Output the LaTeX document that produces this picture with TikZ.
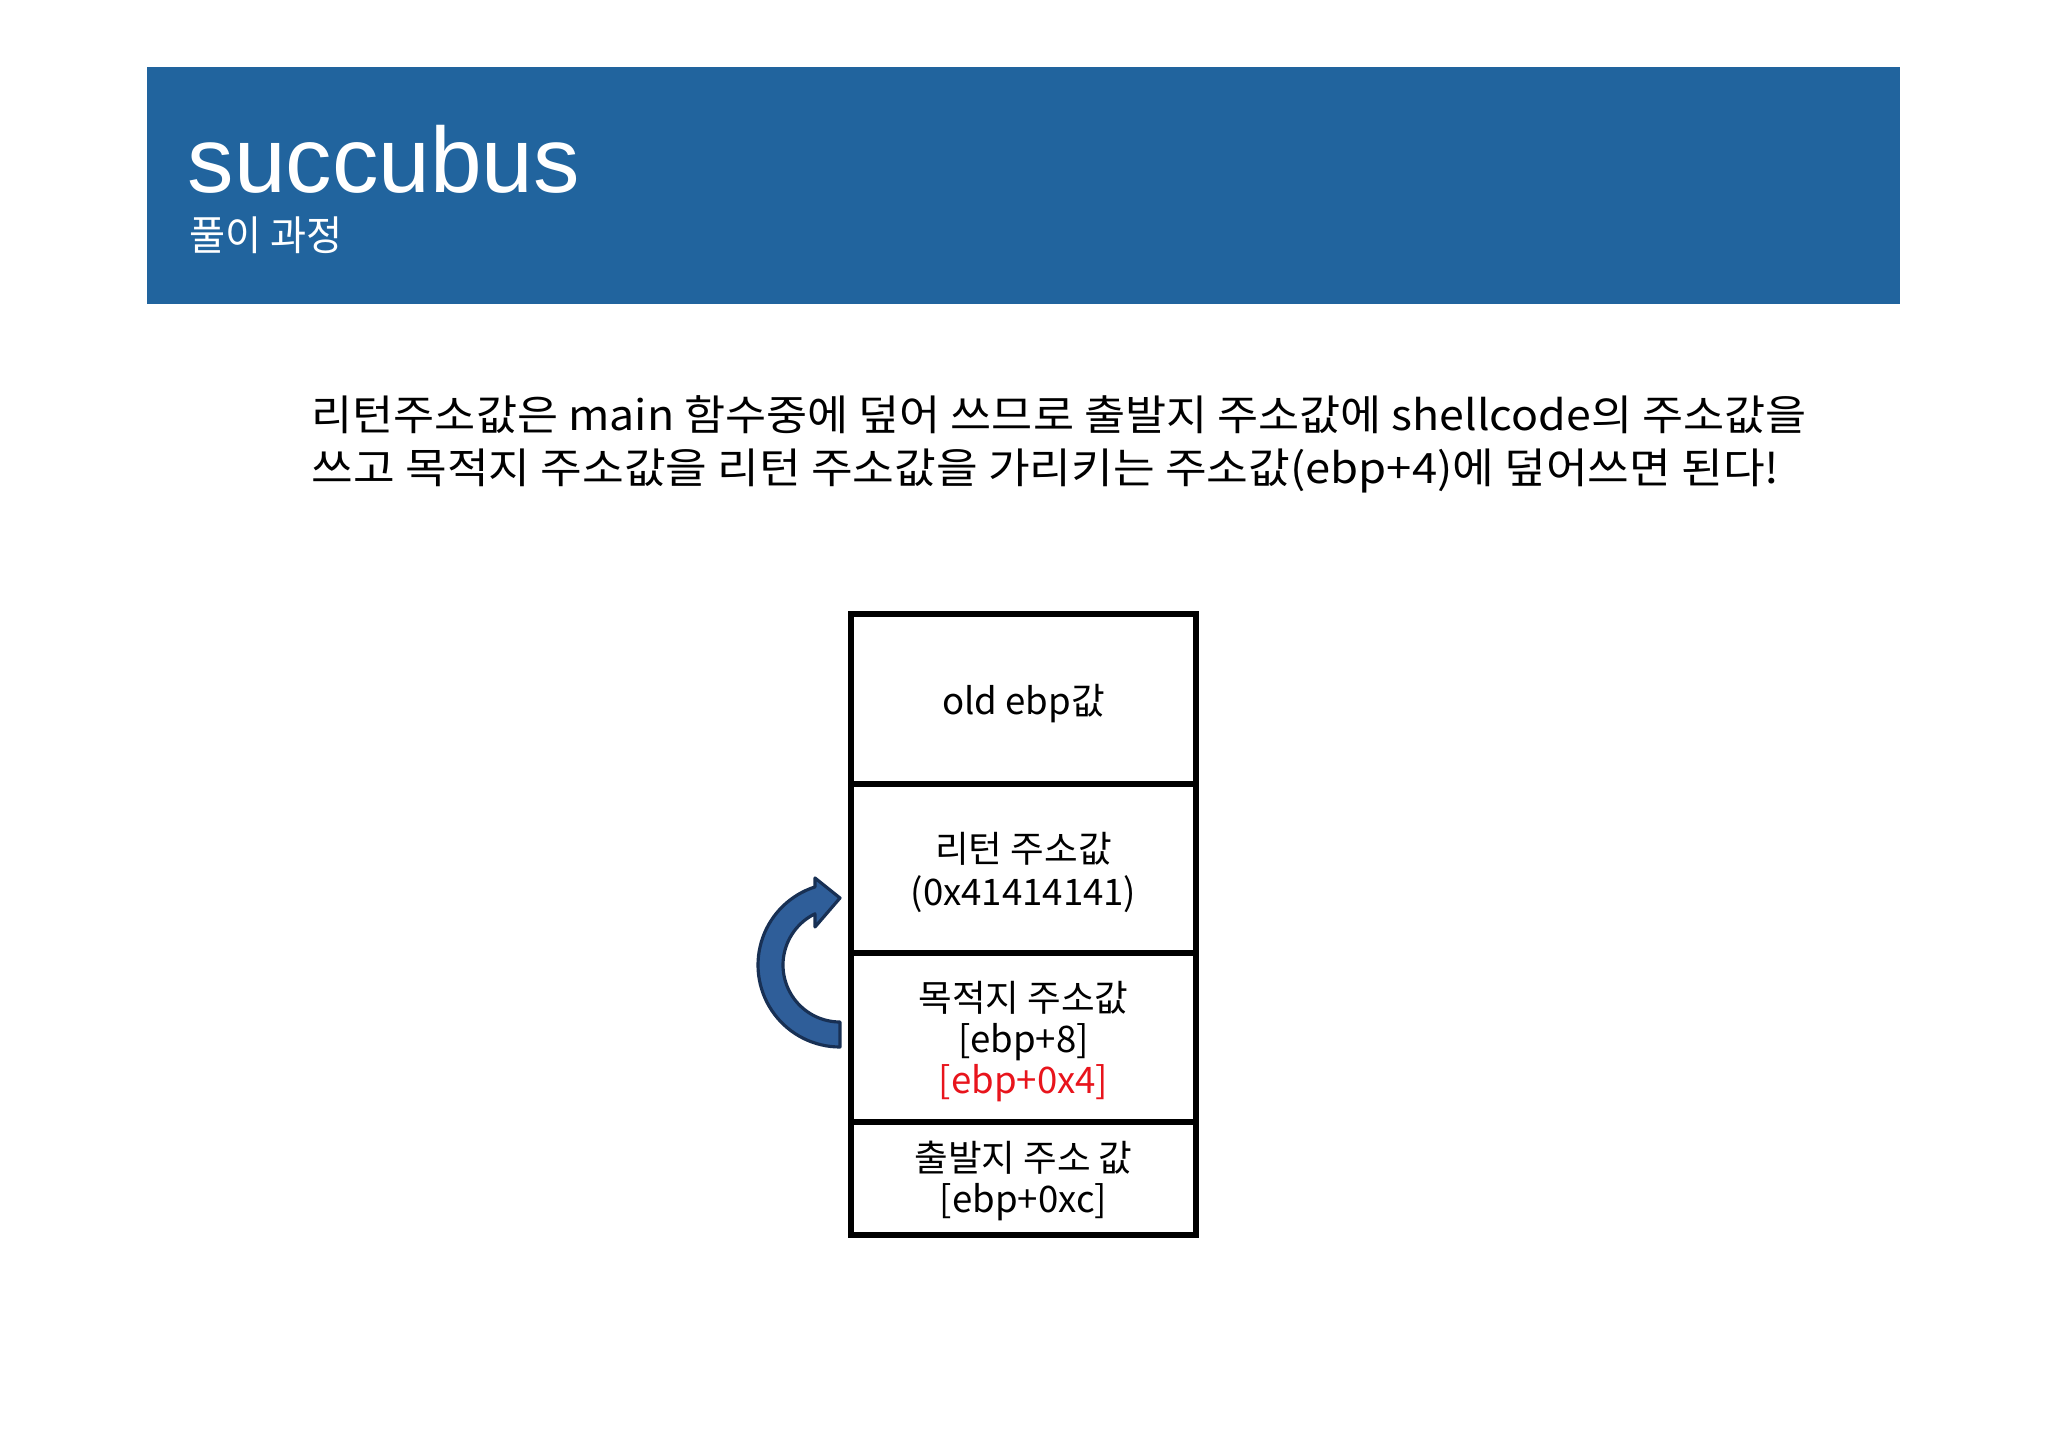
\documentclass[tikz,border=0pt]{standalone}
\usepackage{fontspec}
\setmainfont{Noto Sans CJK KR}
\newfontfamily\titlefont{Liberation Sans}
\newfontfamily\krfont{Noto Sans CJK KR}
\definecolor{hdrblue}{RGB}{33,100,158}
\definecolor{arrfill}{RGB}{47,94,153}
\definecolor{arrline}{RGB}{24,48,84}
\definecolor{redtxt}{RGB}{232,20,28}
\newdimen\fitlen
\newcommand{\subtxt}{\krfont\fontsize{11.6pt}{14pt}\selectfont 풀이 과정}
\newcommand{\lineone}{\krfont\fontsize{11.9pt}{14pt}\selectfont 리턴주소값은 main 함수중에 덮어 쓰므로 출발지 주소값에 shellcode의 주소값을}
\newcommand{\linetwo}{\krfont\fontsize{11.9pt}{14pt}\selectfont 쓰고 목적지 주소값을 리턴 주소값을 가리키는 주소값(ebp+4)에 덮어쓰면 된다!}
\begin{document}
\setbox0=\hbox{\subtxt}\global\fitlen=\wd0\relax
\pgfmathsetmacro\subxs{43.53/(\fitlen/1pt)}
\xdef\subxs{\subxs}
\setbox0=\hbox{\lineone}\global\fitlen=\wd0\relax
\pgfmathsetmacro\bodyxs{425.08/(\fitlen/1pt)}
\xdef\bodyxs{\bodyxs}
\setbox0=\hbox{\linetwo}\global\fitlen=\wd0\relax
\pgfmathsetmacro\bodyxsb{417.4/(\fitlen/1pt)}
\xdef\bodyxsb{\bodyxsb}
\begin{tikzpicture}[x=0.01cm,y=-0.01cm,
  cell/.style={draw=black, line width=1.7pt, minimum width=3.45cm, inner sep=0pt, outer sep=0pt},
  celltxt/.style={anchor=base, inner sep=0pt, font=\krfont\fontsize{10.4pt}{12pt}\selectfont},
  bodytxt/.style={anchor=base west, inner sep=0pt},
  arrowshape/.style={fill=arrfill, draw=arrline, line width=0.9pt, line join=round}]
\useasboundingbox (0,0) rectangle (2048,1449);
\fill[white] (0,0) rectangle (2048,1449);
% header
\node[fill=hdrblue, minimum width=17.51cm, minimum height=2.37cm, inner sep=0pt, outer sep=0pt] (header) at (1023.5,185.5) {};
\node[anchor=base west, inner sep=0pt, text=white, font=\titlefont\fontsize{26.4pt}{30pt}\selectfont] (title) at (187,193) {succubus};
\node[anchor=base west, inner sep=0pt, text=white] (subtitle) at (189,251) {\scalebox{\subxs}[1]{\subtxt}};
% body text
\node[bodytxt] (body1) at (311,431) {\scalebox{\bodyxs}[1]{\lineone}};
\node[bodytxt] (body2) at (311,484) {\scalebox{\bodyxsb}[1]{\linetwo}};
% stack cells
\node[cell, minimum height=1.70cm] (c1) at (1023.5,699) {};
\node[cell, minimum height=1.69cm] (c2) at (1023.5,868.5) {};
\node[cell, minimum height=1.69cm] (c3) at (1023.5,1037.5) {};
\node[cell, minimum height=1.13cm] (c4) at (1023.5,1178.5) {};
% cell texts
\node[celltxt] (t1) at (1023.5,714) {old ebp값};
\node[celltxt] (t2a) at (1023.5,862) {리턴 주소값};
\node[celltxt] (t2b) at (1023.5,905) {(0x41414141)};
\node[celltxt] (t3a) at (1023.5,1011) {목적지 주소값};
\node[celltxt] (t3b) at (1023.5,1052) {[ebp+8]};
\node[celltxt, text=redtxt] (t3c) at (1023.5,1093) {[ebp+0x4]};
\node[celltxt] (t4a) at (1023.5,1171) {출발지 주소 값};
\node[celltxt] (t4b) at (1023.5,1212) {[ebp+0xc]};
% curved block arrow
\filldraw[arrowshape]
  plot[domain=90:252.25, samples=50] ({840+82*cos(\x)},{965+82*sin(\x)})
  -- (815,878) -- (840,898) -- (815,927)
  -- plot[domain=243.9:90, samples=50] ({840+57*cos(\x)},{965+57*sin(\x)})
  -- cycle;
\end{tikzpicture}
\end{document}
